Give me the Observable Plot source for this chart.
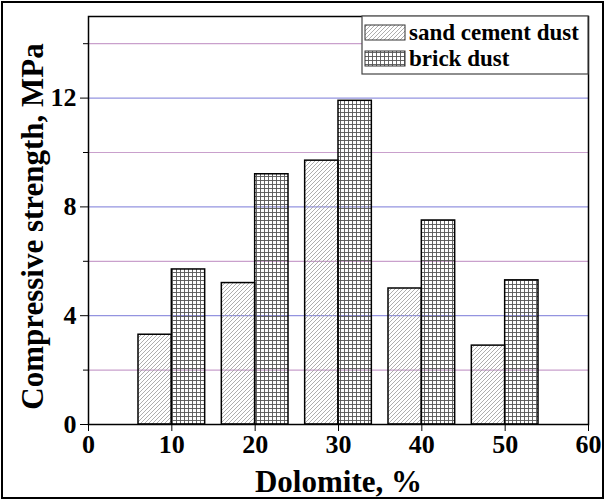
<!DOCTYPE html>
<html><head>
<meta charset="utf-8">
<script src="https://cdn.jsdelivr.net/npm/d3@7"></script>
<script src="https://cdn.jsdelivr.net/npm/@observablehq/plot@0.6"></script>
<style>
body{margin:0;background:#fff}
#chart svg{display:block}
</style>
</head><body><div id="chart"></div>
<script>
const dolomite = [10, 20, 30, 40, 50];
const sandCement = [3.3, 5.2, 9.7, 5.0, 2.9];
const brickDust = [5.7, 9.2, 11.9, 7.5, 5.3];
const series = ["sand cement dust", "brick dust"];
const xTicks = [0, 10, 20, 30, 40, 50, 60];
const yTicks = [0, 4, 8, 12];
const yMinorTicks = [2, 6, 10, 14];
const xLabel = "Dolomite, %";
const yLabel = "Compressive strength, MPa";

const barW = 4;
const sandRows = dolomite.map((d, i) => ({d, v: sandCement[i]}));
const brickRows = dolomite.map((d, i) => ({d, v: brickDust[i]}));

const font = "'Liberation Serif', 'Times New Roman', serif";

const plot = Plot.plot({
  width: 605,
  height: 500,
  marginLeft: 88,
  marginRight: 17,
  marginTop: 16,
  marginBottom: 76,
  style: {fontFamily: font, background: "white", color: "black"},
  x: {domain: [0, 60], label: null},
  y: {domain: [0, 15], label: null},
  marks: [
    Plot.ruleY(yMinorTicks, {stroke: "#c9a0cc", strokeWidth: 1.2}),
    Plot.ruleY(yTicks.filter(v => v > 0), {stroke: "#9494e0", strokeWidth: 1.2}),
    Plot.rectY(sandRows, {x1: d => d.d - barW, x2: "d", y: "v", fill: "url(#hatch)", stroke: "black", strokeWidth: 1.5}),
    Plot.rectY(brickRows, {x1: "d", x2: d => d.d + barW, y: "v", fill: "url(#grid)", stroke: "black", strokeWidth: 1.5}),
    Plot.frame({stroke: "black", strokeWidth: 1.5}),
    Plot.axisX({ticks: xTicks, tickSize: 7, tickPadding: 3, fontSize: 26, fontWeight: "bold", label: null, tickFormat: d => d}),
    Plot.axisY({ticks: yTicks, tickSize: 8, tickPadding: 4, fontSize: 26, fontWeight: "bold", label: null, tickFormat: d => d}),
    Plot.axisY({ticks: yMinorTicks, tickSize: 5, text: null, label: null}),
    Plot.text([xLabel], {frameAnchor: "bottom", lineAnchor: "middle", textAnchor: "middle", dy: 58, fontSize: 31, fontWeight: "bold", fill: "black"}),
    Plot.text([yLabel], {frameAnchor: "left", lineAnchor: "middle", textAnchor: "middle", dx: -55, dy: 6, rotate: -90, fontSize: 31, fontWeight: "bold", fill: "black"})
  ]
});

const svg = d3.select(plot);
const defs = svg.insert("defs", ":first-child");
const hatch = defs.append("pattern").attr("id", "hatch").attr("patternUnits", "userSpaceOnUse")
  .attr("width", 4).attr("height", 4);
hatch.append("path").attr("d", "M-1,1 l2,-2 M0,4 l4,-4 M3,5 l2,-2")
  .attr("stroke", "#999").attr("stroke-width", 0.8);
const grid = defs.append("pattern").attr("id", "grid").attr("patternUnits", "userSpaceOnUse")
  .attr("width", 4).attr("height", 4);
grid.append("path").attr("d", "M0,0.5 H4 M0.5,0 V4")
  .attr("stroke", "#555").attr("stroke-width", 0.9);

// legend
const lg = svg.append("g").attr("font-family", font).attr("font-weight", "bold")
  .attr("font-size", 23).attr("text-anchor", "start");
lg.append("rect").attr("x", 362).attr("y", 16).attr("width", 226).attr("height", 58)
  .attr("fill", "white").attr("stroke", "#444").attr("stroke-width", 1.2);
const fills = ["url(#hatch)", "url(#grid)"];
series.forEach((s, i) => {
  const y0 = 25 + i * 26;
  lg.append("rect").attr("x", 365).attr("y", y0).attr("width", 40).attr("height", 15)
    .attr("fill", fills[i]).attr("stroke", "#333").attr("stroke-width", 1);
  lg.append("text").attr("x", 409).attr("y", y0 + 15).attr("text-anchor", "start").text(s);
});

// outer border
svg.append("rect").attr("x", 2).attr("y", 2).attr("width", 601).attr("height", 496)
  .attr("fill", "none").attr("stroke", "black").attr("stroke-width", 2);

document.getElementById("chart").append(plot);
</script>
</body></html>
